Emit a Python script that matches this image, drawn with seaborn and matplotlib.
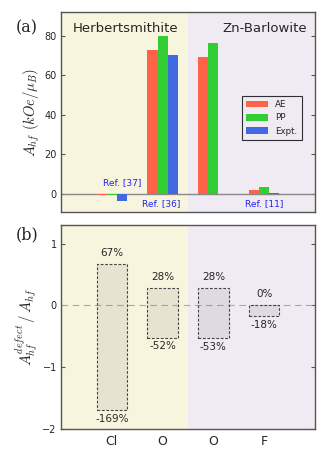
import numpy as np
import pandas as pd
import matplotlib
matplotlib.use("Agg")
import matplotlib.pyplot as plt
import seaborn as sns

# ==========================================
#  DATA
# ==========================================
sites = ["Cl", "O", "O ", "F"]          # x categories (second O kept distinct)
site_labels = ["Cl", "O", "O", "F"]
ae_vals = [-0.8, 73.0, 69.3, 2.0]
pp_vals = [-0.8, 80.0, 76.3, 3.2]
expt_vals = [-3.7, 70.0, np.nan, 0.3]
methods = ["AE", "PP", "Expt."]

ratio_high = [0.67, 0.28, 0.28, 0.0]
ratio_low = [-1.69, -0.52, -0.53, -0.18]
high_labels = ["67%", "28%", "28%", "0%"]
low_labels = ["-169%", "-52%", "-53%", "-18%"]

materials = ["Herbertsmithite", "Zn-Barlowite"]
refs = ["Ref. [37]", "Ref. [36]", "Ref. [11]"]

df = pd.DataFrame({
    "Site": sites * 3,
    "Method": [m for m in methods for _ in sites],
    "A_hf": ae_vals + pp_vals + expt_vals,
})

# ==========================================
#  STYLE
# ==========================================
sns.set_style("ticks")
plt.rcParams["font.family"] = ["DejaVu Sans"]
plt.rcParams["mathtext.fontset"] = "cm"
plt.rcParams["axes.edgecolor"] = "#555555"
plt.rcParams["axes.linewidth"] = 1.0

yellow = "#f8f5df"
purple = "#f0eaf2"
palette = {"AE": "#ff6347", "PP": "#32cd32", "Expt.": "#4169e1"}

fig = plt.figure(figsize=(3.27, 4.58), dpi=100)
ax1 = fig.add_axes([61 / 327, 1 - 212 / 458, 254 / 327, 200 / 458])
ax2 = fig.add_axes([61 / 327, 1 - 429 / 458, 254 / 327, 204 / 458])

for ax in (ax1, ax2):
    ax.axvspan(-1, 1.5, color=yellow, zorder=0, lw=0)
    ax.axvspan(1.5, 4, color=purple, zorder=0, lw=0)

# ==========================================
# (a) hyperfine couplings
# ==========================================
sns.barplot(data=df, x="Site", y="A_hf", hue="Method", order=sites,
            hue_order=methods, palette=palette, width=0.6, ax=ax1,
            saturation=1, edgecolor="none", zorder=2)
ax1.axhline(0, color="#888888", lw=1, zorder=1)
ax1.set_xlim(-1, 4)
ax1.set_ylim(-9.3, 92)
ax1.set_yticks([0, 20, 40, 60, 80])
ax1.set_xticks([])
ax1.set_xlabel("")
ax1.set_ylabel(r"$A_{hf}\ (kOe/\mu_B)$", fontsize=10.5, labelpad=2)
ax1.tick_params(axis="y", direction="in", right=True, labelsize=7,
                length=3, color="#555555", pad=3)
ax1.text(0.045, 0.95, materials[0], transform=ax1.transAxes, fontsize=9.5,
         va="top", ha="left")
ax1.text(0.97, 0.95, materials[1], transform=ax1.transAxes, fontsize=9.5,
         va="top", ha="right")
ax1.text(0.2, 4.5, refs[0], color="#2222ee", fontsize=6.5, ha="center")
ax1.text(0.98, -6.5, refs[1], color="#2222ee", fontsize=6.5, ha="center")
ax1.text(3.0, -6.5, refs[2], color="#2222ee", fontsize=6.5, ha="center")
leg = ax1.legend(loc="center right", bbox_to_anchor=(0.965, 0.47),
                 fontsize=6.3, frameon=True, fancybox=False,
                 edgecolor="black", handlelength=2.5, handleheight=0.8,
                 borderpad=0.5, labelspacing=0.5)
leg.get_frame().set_linewidth(0.8)
leg.get_frame().set_facecolor(purple)
ax1.text(-0.18, 0.9, "(a)", transform=ax1.transAxes, fontsize=11.5,
         family="serif")

# ==========================================
# (b) defect ratio boxes
# ==========================================
x_pos = np.arange(len(sites))
heights = np.array(ratio_high) - np.array(ratio_low)
ax2.bar(x_pos, heights, bottom=ratio_low, width=0.6, color="gray",
        alpha=0.15, zorder=2)
ax2.bar(x_pos, heights, bottom=ratio_low, width=0.6, fill=False,
        edgecolor="#444444", linestyle=(0, (2.5, 1.5)), lw=0.8, zorder=3)
ax2.axhline(0, color="#aaaaaa", lw=0.8, ls=(0, (6, 4)), zorder=1)
for x, hi, lo, ht, lt in zip(x_pos, ratio_high, ratio_low, high_labels,
                             low_labels):
    ax2.text(x, hi + 0.1, ht, ha="center", va="bottom", fontsize=7.5)
    ax2.text(x, lo - 0.06, lt, ha="center", va="top", fontsize=7.5)
ax2.set_xlim(-1, 4)
ax2.set_ylim(-2.0, 1.3)
ax2.set_yticks([-2, -1, 0, 1])
ax2.set_yticklabels(["\u22122", "\u22121", "0", "1"])
ax2.set_xticks(x_pos)
ax2.set_xticklabels(site_labels, fontsize=9)
ax2.tick_params(axis="y", direction="in", right=True, labelsize=7,
                length=3, color="#555555", pad=3)
ax2.tick_params(axis="x", length=0, pad=4)
ax2.set_ylabel(r"$A_{hf}^{defect}\,/\,A_{hf}$", fontsize=10.5, labelpad=2)
ax2.text(-0.18, 0.93, "(b)", transform=ax2.transAxes, fontsize=11.5,
         family="serif")

sns.despine(ax=ax1, top=False, right=False)
sns.despine(ax=ax2, top=False, right=False)

fig.savefig("out.png", dpi=100)
